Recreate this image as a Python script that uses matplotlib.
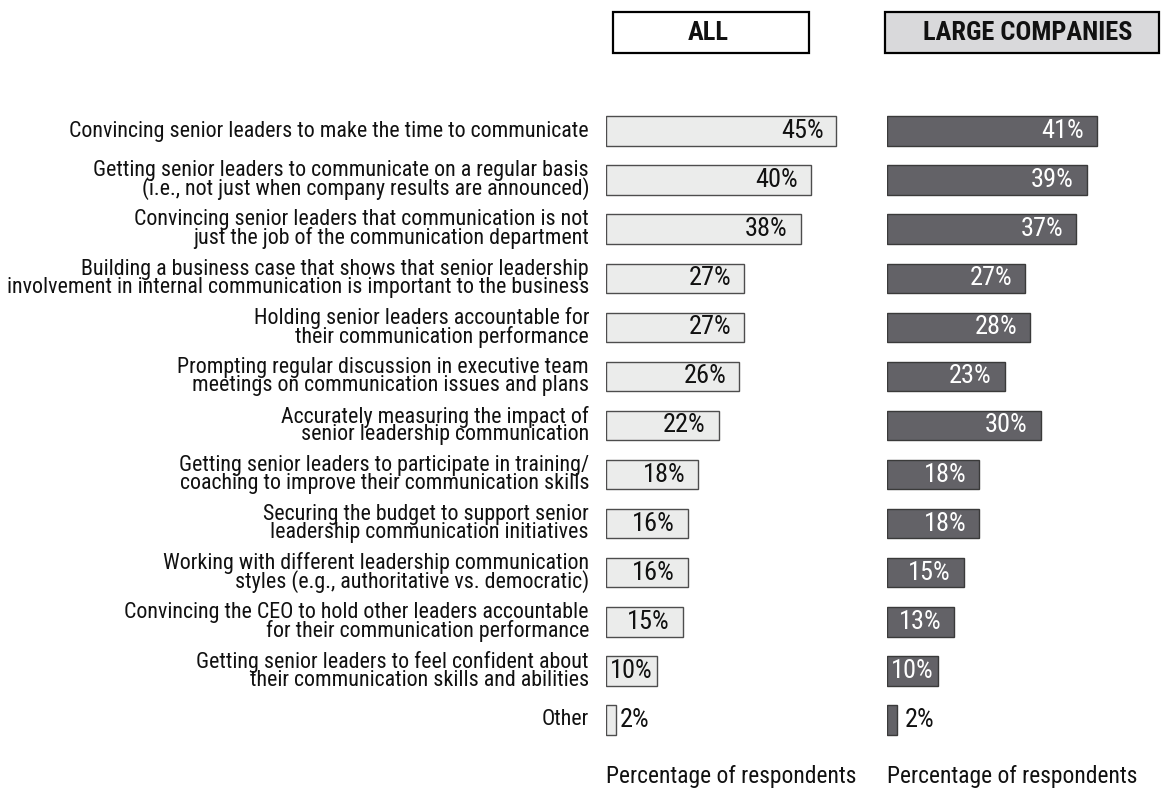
import matplotlib
matplotlib.use('Agg')
import matplotlib.pyplot as plt
from matplotlib.patches import Rectangle

# ============================================================
# DATA
# ============================================================
labels = [
    'Convincing senior leaders to make the time to communicate',
    'Getting senior leaders to communicate on a regular basis\n(i.e., not just when company results are announced)',
    'Convincing senior leaders that communication is not\njust the job of the communication department',
    'Building a business case that shows that senior leadership\ninvolvement in internal communication is important to the business',
    'Holding senior leaders accountable for\ntheir communication performance',
    'Prompting regular discussion in executive team\nmeetings on communication issues and plans',
    'Accurately measuring the impact of\nsenior leadership communication',
    'Getting senior leaders to participate in training/\ncoaching to improve their communication skills',
    'Securing the budget to support senior\nleadership communication initiatives',
    'Working with different leadership communication\nstyles (e.g., authoritative vs. democratic)',
    'Convincing the CEO to hold other leaders accountable\nfor their communication performance',
    'Getting senior leaders to feel confident about\ntheir communication skills and abilities',
    'Other',
]
all_values = [45, 40, 38, 27, 27, 26, 22, 18, 16, 16, 15, 10, 2]
large_values = [41, 39, 37, 27, 28, 23, 30, 18, 18, 15, 13, 10, 2]

panel_titles = ['ALL', 'LARGE COMPANIES']
xlabel = 'Percentage of respondents'

# ============================================================
# STYLE
# ============================================================
plt.rcParams['font.family'] = ['Roboto Condensed', 'DejaVu Sans']

W, H = 1161, 789
fig = plt.figure(figsize=(W / 100, H / 100), dpi=100)

def fx(px):
    return px / W

def fy(py):
    return 1 - py / H

n = len(labels)
row_top, row_bot = 106.5, 744.5
row_h = (row_bot - row_top) / n
scale = 5.12          # px per percent
ppp = 1 / scale       # percent per px

# (left px, values, fill, edge, label colour, gap for outside labels)
panels = [
    (606, all_values, '#ebeceb', '#4d4d4d', '#111111', 4),
    (887, large_values, '#636267', '#3a3a3a', 'white', 8),
]

for i, (x0, vals, face, edge, txtcol, gap) in enumerate(panels):
    ax = fig.add_axes([fx(x0), fy(row_bot), fx(50 * scale), (row_bot - row_top) / H])
    ax.barh(range(n), vals, height=0.6, color=face, edgecolor=edge, linewidth=1)
    ax.set_xlim(0, 50)
    ax.set_ylim(n - 0.5, -0.5)
    ax.axis('off')
    for j, v in enumerate(vals):
        if v * scale > 70:
            ax.text(v - 13 * ppp, j, f'{v}%', ha='right', va='center',
                    fontsize=19, color=txtcol)
        elif v >= 5:
            ax.text(v / 2, j, f'{v}%', ha='center', va='center',
                    fontsize=19, color=txtcol)
        else:
            ax.text(v + gap * ppp, j, f'{v}%', ha='left', va='center',
                    fontsize=19, color='#111111')
    if i == 0:
        for j, lab in enumerate(labels):
            ax.text(-17 * ppp, j, lab, ha='right', va='center', fontsize=15.8,
                    linespacing=0.8, color='#111111')
    # x label sits just above the bottom edge of the figure
    ax.text(0, n - 0.5 + (783 - row_bot) / row_h, xlabel, ha='left',
            va='baseline', fontsize=16.9, color='#111111', clip_on=False)

# Header boxes
head_boxes = [(613, 809, 'white', 708), (885, 1159, '#d9d9db', 1028)]
for (xa, xb, fill, cx), title in zip(head_boxes, panel_titles):
    fig.patches.append(Rectangle((fx(xa), fy(53)), fx(xb - xa), (53 - 12) / H,
                                 transform=fig.transFigure, facecolor=fill,
                                 edgecolor='black', linewidth=1.6))
    fig.text(fx(cx), fy(33), title, ha='center', va='center',
             fontsize=19, fontweight='bold', color='#111111')

fig.savefig('out.png', dpi=100)
